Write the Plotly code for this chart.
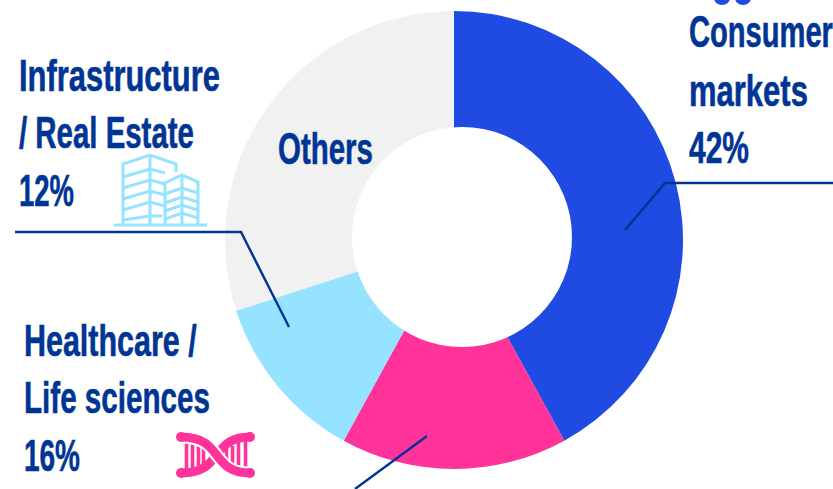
import json

import plotly.graph_objects as go

W, H = 833, 489

sectors = ["Consumer markets", "Healthcare / Life sciences", "Infrastructure / Real Estate", "Others"]
shares = [42, 16, 12, 30]
sector_colors = ["#1F4BE3", "#FF3399", "#96E3FF", "#F1F1F1"]

NAVY = "#003594"
FONT = "Liberation Sans"
FONT_SIZE = 45

# (text, left x, baseline y, rendered width)
text_lines = [
    ("Infrastructure", 18, 91, 201),
    ("/ Real Estate", 18, 148, 175),
    ("12%", 18, 206, 55),
    ("Others", 277, 164, 95),
    ("Healthcare /", 23, 356, 173),
    ("Life sciences", 23, 413, 186),
    ("16%", 23, 471, 56),
    ("Consumer", 688, 47, 144),
    ("markets", 688, 106, 119),
    ("42%", 688, 163, 60),
]


def fx(x):
    return x / W


def fy(y):
    return 1 - y / H


def path_d(points):
    return "M " + " L ".join(f"{fx(x):.5f},{fy(y):.5f}" for x, y in points)


def curve_d(p0, c1, c2, p1):
    return (f"M {fx(p0[0]):.5f},{fy(p0[1]):.5f} "
            f"C {fx(c1[0]):.5f},{fy(c1[1]):.5f} {fx(c2[0]):.5f},{fy(c2[1]):.5f} "
            f"{fx(p1[0]):.5f},{fy(p1[1]):.5f}")


fig = go.Figure(go.Pie(
    labels=sectors,
    values=shares,
    hole=0.42,
    sort=False,
    direction="clockwise",
    rotation=0,
    marker=dict(colors=sector_colors, line=dict(width=0)),
    textinfo="none",
    hoverinfo="label+percent",
    showlegend=False,
    domain=dict(x=[fx(225), fx(683)], y=[fy(469), fy(11)]),
))

shapes = []

# The centre disc sits slightly off the pie's own centre
shapes.append(dict(type="circle", xref="paper", yref="paper",
                   x0=fx(352), x1=fx(572), y0=fy(347), y1=fy(127),
                   fillcolor="#FFFFFF", line=dict(width=0)))


def stroke(d, color, width):
    shapes.append(dict(type="path", path=d, xref="paper", yref="paper",
                       line=dict(color=color, width=width)))


# Leader lines from the sectors to their captions
for pts in ([(833, 183), (665, 183), (625, 230)],
            [(15, 232), (241, 232), (289, 327)],
            [(427, 436), (355, 489)]):
    stroke(path_d(pts), NAVY, 2.4)

# Building icon
SKY = "#96E3FF"
icon_lines = [
    [(114, 225), (207, 225)],
    [(123, 224), (123, 164), (150, 155), (176, 164), (176, 172)],
    [(150, 155), (150, 224)],
    [(165, 224), (165, 183), (182, 175), (198, 182), (198, 224)],
    [(182, 175), (182, 224)],
]
for y in (177, 188, 199, 210):
    icon_lines.append([(123, y), (150, y - 8), (165, y - 4)])
for y in (194, 203, 211, 219):
    icon_lines.append([(165, y), (182, y - 6), (198, y - 1)])
icon_lines.append([(123, 220), (150, 216), (162, 216)])
for pts in icon_lines:
    stroke(path_d(pts), SKY, 3)

# Helix icon
PINK = "#FF3399"
for x in (186, 192, 198, 203, 226, 232, 238, 245):
    half = 10 if x in (198, 203, 226, 232) else 15
    stroke(path_d([(x + 0.5, 456 - half), (x + 0.5, 456 + half)]), PINK, 3.6)
stroke(curve_d((181, 473), (224, 473), (210, 437), (250, 437)), PINK, 9)
stroke(curve_d((181, 437), (224, 437), (210, 473), (250, 473)), "#FFFFFF", 13)
stroke(curve_d((181, 437), (224, 437), (210, 473), (250, 473)), PINK, 9)
for x, y in ((181, 437), (250, 437), (181, 473), (250, 473)):
    shapes.append(dict(type="circle", xref="paper", yref="paper",
                       x0=fx(x - 5), x1=fx(x + 5), y0=fy(y + 5), y1=fy(y - 5),
                       fillcolor=PINK, line=dict(width=0)))

# Bottom of the icon above the consumer caption, cut by the page edge
for cx in (722, 743):
    shapes.append(dict(type="circle", xref="paper", yref="paper",
                       x0=fx(cx - 8), x1=fx(cx + 8), y0=fy(5), y1=fy(-9),
                       fillcolor="#1F4BE3", line=dict(width=0)))

annotations = [
    dict(text=t, x=fx(x), y=fy(base + FONT_SIZE * 0.235), xref="paper", yref="paper",
         xanchor="left", yanchor="bottom", showarrow=False, align="left",
         borderpad=0, font=dict(family=FONT, size=FONT_SIZE, color=NAVY, weight="bold"))
    for t, x, base, w in text_lines
]

fig.update_layout(
    width=W, height=H,
    margin=dict(l=0, r=0, t=0, b=0),
    paper_bgcolor="#FFFFFF",
    shapes=shapes,
    annotations=annotations,
)

# The captions use a very condensed cut: narrow each line to its measured width
widths = {t: w for t, _, _, w in text_lines}
fit_script = """
var widths = %s;
document.querySelectorAll('.annotation-text').forEach(function (el) {
  var w = widths[el.textContent];
  if (!w) return;
  var box = el.getBBox();
  var sx = w / box.width;
  el.setAttribute('transform', 'translate(' + box.x + ',0) scale(' + sx + ',1) translate(' + (-box.x) + ',0)');
  el.style.stroke = '%s';
  el.style.strokeWidth = '0.6px';
});
""" % (json.dumps(widths), NAVY)

fig.write_html("out.html", post_script=fit_script, config=dict(displayModeBar=False))
